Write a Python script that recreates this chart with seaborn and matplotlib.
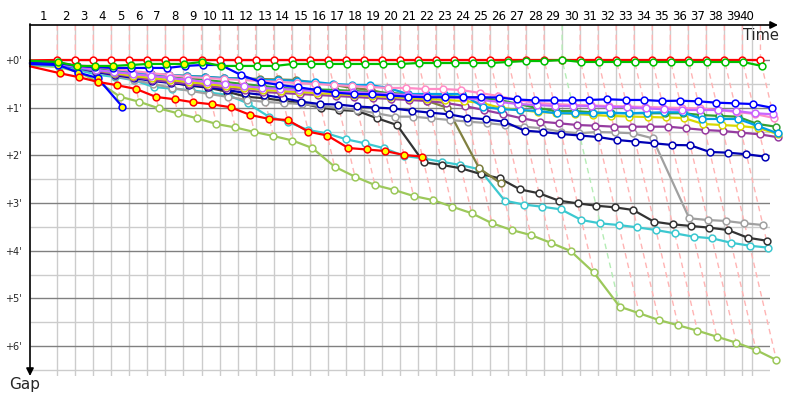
import numpy as np
import pandas as pd
import matplotlib
matplotlib.use("Agg")
import matplotlib.pyplot as plt
import seaborn as sns
from matplotlib.transforms import blended_transform_factory

sns.set_theme(style="white")
plt.rcParams['font.family'] = ['DejaVu Sans']

# ---------------- data ----------------
# leader lap durations (seconds)
leader_lap_times = [147.0, 97.2, 97.1, 97.2, 97.2, 97.1, 97.2, 97.2, 97.1, 97.2,
                    97.2, 97.1, 97.2, 97.2, 97.1, 97.2, 97.2, 97.1, 97.2, 97.2,
                    97.1, 97.2, 97.2, 97.1, 97.2, 97.2, 97.1, 97.2, 97.2, 97.1,
                    97.2, 97.2, 97.1, 97.2, 97.2, 97.1, 97.2, 97.2, 97.1, 97.2]
lap_labels = [str(i) for i in range(1, 41)]
gap_ticks = [0, 60, 120, 180, 240, 300, 360]
gap_tick_labels = ["+0'", "+1'", "+2'", "+3'", "+4'", "+5'", "+6'"]

# gap to leader (seconds) at the end of each completed lap
gap_red = [0, 0, 0, 0, 0, 0, 0, 0, 0, 0, 0, 0, 0, 0, 0, 0, 0, 0, 0, 0,
           0, 0, 0, 0, 0, 0, 0, 0, 0, 0, 0, 0, 0, 0, 0, 0, 0, 0, 0, 0]
gap_green = [2.5, 7.5, 7.5, 7.5, 6.3, 5, 5, 5, 2.5, 7.5, 7.5, 7.5, 7.5, 5, 5, 5, 5, 5, 5, 5,
             3.8, 3.8, 3.8, 3.8, 3.8, 2.5, 1.3, 1.3, 0, 2.5, 2.5, 2.5, 2.5, 2.5, 2.5, 2.5, 2.5, 2.5, 2.5, 7.5]
gap_red2 = [16.8, 21.8, 27.7, 31.8, 36.5, 46.5, 49.4, 53.2, 55.7, 59.5, 69.2, 74.2, 75.5, 90.2,
            95, 110.7, 112.6, 114.5, 119.5, 121.6]
gap_lightgreen = [8.8, 15.1, 27.7, 46.2, 52.5, 60.8, 67.1, 73.4, 80.5, 84.9, 90.6, 95.6, 101.3,
                  110.7, 134.2, 146.8, 157.3, 163.5, 171.1, 176.1, 184.5, 192.8, 205.4, 213.9,
                  220.2, 229.9, 240.3, 267.1, 310.3, 318.6, 327.1, 333.7, 340.5, 348.1, 355.6,
                  364.8, 377.4]
gap_cyan = [7.5, 12.6, 18.5, 21.4, 25.5, 34, 36.1, 38.1, 40.9, 44, 54.5, 71.3, 78, 88.1, 92.3,
            99.8, 104.9, 111.1, 120.8, 123.7, 128, 132.1, 137.5, 177, 181.8, 184.6, 187.9, 201.3,
            205.5, 207.6, 210.5, 213.9, 218, 222.3, 224.3, 229.9, 233.6, 236.1]
gap_black = [5, 8.8, 13.8, 17.6, 21.4, 25.2, 28.1, 32.3, 34.8, 39.9, 46.2, 48.2, 51.2, 54.5, 60,
             62.9, 64.2, 73.4, 81.8, 128.7, 132.1, 136.3, 143.4, 148.8, 162.9, 167.7, 177, 180.3,
             183.3, 185.3, 188.7, 203.4, 206.7, 208.8, 210.9, 213.9, 223.6, 227.3]
gap_olive = [3.8, 7.5, 11.3, 13.8, 16.4, 17.6, 18.9, 20.1, 21, 23, 23, 23.9, 24.5, 25.2, 28.6,
             31.4, 35.2, 37.7, 43.1, 45.3, 51.6, 60, 136.2, 155.1]
gap_gray = [5, 10, 15.1, 20.1, 25.2, 30.2, 35.2, 39, 42.8, 46.5, 50.3, 52.8, 54.1, 55.4, 57.9,
            60.4, 62.9, 67, 71.3, 71.3, 73.4, 75.5, 77.6, 79.3, 81.8, 83.9, 85.9, 90.2, 92.2,
            90.6, 91.2, 92.2, 98.5, 199.1, 201.3, 202.5, 205.4, 207.6]
gap_navy = [5, 10, 15.1, 18.9, 22.6, 26.4, 28.9, 31.4, 34, 37.7, 41.5, 44, 47.8, 52.5, 55.4, 56,
            58.5, 59.8, 61, 63.8, 66.3, 68.3, 72.6, 74.6, 77.6, 88.9, 90.6, 93.1, 95, 96.9,
            100.6, 102.7, 104.8, 106.9, 107.3, 115.7, 116.6, 118.6, 121.6]
gap_blue = [3.8, 7.5, 8.8, 10, 10, 10, 10, 7.5, 6.3, 6.3, 18.9, 27.7, 31.4, 34.3, 37.7, 41.1,
            42.8, 43.1, 44.7, 46.2, 46.9, 46.9, 46.9, 46.9, 47.2, 49.7, 50.9, 50.9, 50.9, 50.3,
            49.4, 50.3, 50.3, 51.6, 51.2, 52, 53.7, 54.5, 55.4, 60]
gap_skyblue = [5, 10, 12.6, 15.1, 16.4, 17.6, 18.9, 20.1, 21.4, 22.6, 23.9, 25.2, 25.2, 26.4,
               27.7, 30.2, 31.4, 31.4, 35.2, 42.8, 42.8, 42.8, 42.8, 58.7, 62, 62.9, 64.2, 67,
               67, 67, 66.3, 67, 66.3, 65.8, 65.8, 74.2, 74.2, 74.2, 83, 92.2]
gap_violet = [5, 8.8, 12.6, 15.1, 17.6, 20.1, 22.6, 25.2, 27.7, 30.2, 32.7, 35.2, 36.5, 37.7,
              39, 40.3, 40.3, 41.5, 42.8, 44, 45.3, 46.5, 47.8, 50.3, 52.8, 55.4, 56.6, 57.9,
              57.9, 57.9, 59.1, 59.1, 60.8, 62, 62.9, 62.9, 62.9, 64.2, 67, 68.3]
gap_pink = [3.8, 6.3, 8.8, 11.3, 13.8, 16.4, 18.9, 21.4, 22.6, 23.9, 25.2, 26.4, 27.7, 28.9,
            30.2, 31.4, 32.7, 34, 35.2, 35.2, 36.5, 36.5, 37.7, 41.5, 45.3, 50.3, 54.1, 55.4,
            56.6, 57.2, 57.9, 58.5, 59.1, 59.8, 60.4, 61, 62.9, 65.4, 67.9, 73]
gap_darkgreen = [3.8, 7.5, 10, 12.6, 15.1, 17.6, 20.1, 22.6, 25.2, 27.7, 30.2, 32.7, 35.2, 36.5,
                 37.1, 37.7, 39, 40.3, 41.5, 42.8, 44, 45.3, 46.5, 47.8, 50.3, 55.4, 60.4, 64.2,
                 64.2, 65.8, 67, 67, 67, 67, 67, 69.2, 70.4, 71.3, 80.5, 83.9]
gap_yellow = [5, 8.8, 12.6, 16.4, 20.1, 22.6, 25.2, 27.7, 30.2, 32.7, 35.2, 37.7, 39, 40.3, 41.5,
              42.8, 44, 45.3, 46.5, 47.8, 49, 50.3, 51.6, 54.1, 60.4, 62.9, 65.4, 66.7, 67.9,
              69.2, 70.4, 71.1, 71.7, 72.3, 73, 80.5, 81.8, 83, 85.5, 93.1]
gap_purple = [5, 10, 13.8, 17.6, 21.4, 25.2, 27.7, 30.2, 32.7, 35.2, 37.7, 40.3, 41.5, 42.8, 44,
              45.3, 46.5, 47.8, 49, 50.3, 51.6, 54.1, 57.9, 62.9, 67.9, 73.3, 77.6, 79.6, 81.8,
              82.7, 83.9, 83.9, 83.9, 83.9, 85.9, 88.1, 89.3, 91.5, 93.5, 97.3]
gap_blue2 = [6.3, 16, 22.6, 58.7]

drivers = ["lightgreen", "cyan", "black", "olive", "gray", "navy", "purple", "yellow",
           "darkgreen", "skyblue", "pink", "violet", "blue", "blue2", "red2", "red", "green"]
driver_gaps = [gap_lightgreen, gap_cyan, gap_black, gap_olive, gap_gray, gap_navy, gap_purple,
               gap_yellow, gap_darkgreen, gap_skyblue, gap_pink, gap_violet, gap_blue, gap_blue2,
               gap_red2, gap_red, gap_green]
start_gaps = [7, 6, 4, 3, 4, 4, 5, 5, 3, 4, 3, 4, 3, 5, 8, 0.5, 1]
yellow_laps = [0, 0, 0, 0, 0, 0, 0, 0, 0, 0, 0, 0, 0, 4, 20, 0, 10]
line_colors = ["#9cc85a", "#3cc8d0", "#333333", "#808040", "#a0a0a0", "#0000b4", "#963ca0",
               "#d8d800", "#32a032", "#00a0e6", "#ff8cc8", "#c864ff", "#0000ff", "#0000ff",
               "#ff0000", "#ff0000", "#00c000"]

# ---------------- table ----------------
lap_end = np.cumsum(leader_lap_times)
rows = []
for name, gaps, g0, ny in zip(drivers, driver_gaps, start_gaps, yellow_laps):
    rows.append(dict(driver=name, lap=0, t=0.0, gap=g0, fill="none"))
    for i, g in enumerate(gaps):
        rows.append(dict(driver=name, lap=i + 1, t=lap_end[i] + g, gap=g,
                         fill="#ffff00" if i < ny else "#ffffff"))
df = pd.DataFrame(rows)

# ---------------- figure ----------------
W, H = 800, 400
fig = plt.figure(figsize=(8, 4), dpi=100)
ax = fig.add_axes([30 / W, 24 / H, 740 / W, 351 / H])
x_max = 3988
y_top, y_bot = -44, 397.5
plot_end = 3890
ax.set_xlim(0, x_max)
ax.set_ylim(y_bot, y_top)
for s in ax.spines.values():
    s.set_visible(False)
ax.set_xticks([])
ax.set_yticks(gap_ticks)
ax.set_yticklabels(gap_tick_labels, fontsize=7)
ax.tick_params(axis='y', length=0, pad=6)
ax.set_xlabel("")
ax.set_ylabel("")

# grid
ax.vlines(list(lap_end[:-1]) + [plot_end], y_top, y_bot, color="#cccccc", lw=1, zorder=0.5)
ax.hlines([30, 90, 150, 210, 270, 330, 390], 0, x_max, color="#cccccc", lw=1, zorder=0.6)
ax.hlines(gap_ticks, 0, x_max, color="#808080", lw=1, zorder=0.7)

# lap lines (same-lap diagonals)
for k in range(len(leader_lap_times)):
    avail = [g[k] for g in driver_gaps if len(g) > k]
    mg = max(avail)
    col = "#b4ecb4" if k == 28 else "#ffb4b4"
    ax.plot([lap_end[k], lap_end[k], lap_end[k] + mg], [y_top, 0, mg], color=col, lw=1,
            dashes=(4, 3), zorder=1, clip_on=False)

# series
z = 2
for name, c in zip(drivers, line_colors):
    sub = df[df.driver == name]
    sns.lineplot(data=sub, x="t", y="gap", color=c, lw=1.6, sort=False, estimator=None,
                 ax=ax, zorder=z, clip_on=False, legend=False)
    pts = sub[sub.lap > 0]
    for fc in ["#ffffff", "#ffff00"]:
        p = pts[pts.fill == fc]
        if len(p):
            sns.scatterplot(data=p, x="t", y="gap", color=fc, edgecolor=c, linewidth=1.1,
                            s=24, ax=ax, zorder=z + 0.5, clip_on=False, legend=False)
    z += 1
ax.set_xlabel("")
ax.set_ylabel("")

# axes arrows
ax.annotate("", xy=(1.0108, 1), xytext=(0, 1), xycoords="axes fraction",
            arrowprops=dict(arrowstyle="-|>", color="black", lw=1.2, mutation_scale=11,
                            shrinkA=0, shrinkB=0), zorder=30, annotation_clip=False)
ax.annotate("", xy=(0, 0.0), xytext=(0, 1.003), xycoords="axes fraction",
            arrowprops=dict(arrowstyle="-|>", color="black", lw=1.2, mutation_scale=11,
                            shrinkA=0, shrinkB=0), zorder=30, annotation_clip=False)

# lap number labels
trans = blended_transform_factory(ax.transData, fig.transFigure)
prev = 0.0
for k, lab in enumerate(lap_labels):
    end = min(lap_end[k], plot_end)
    ax.text((prev + end) / 2, 1 - 17 / H, lab, transform=trans, ha="center", va="center",
            fontsize=8.5, color="black")
    prev = lap_end[k]

fig.text(743 / W, 1 - 35 / H, "Time", ha="left", va="center", fontsize=10.5)
fig.text(25 / W, 1 - 385 / H, "Gap", ha="center", va="center", fontsize=11)

fig.savefig("out.png", dpi=100)
